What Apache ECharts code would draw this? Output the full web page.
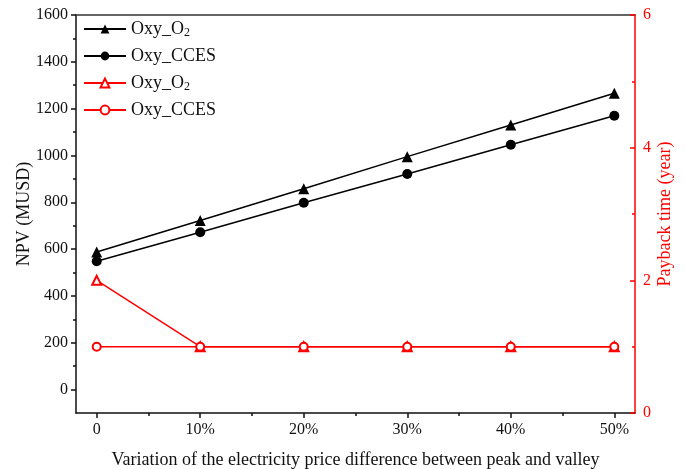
<!DOCTYPE html>
<html>
<head>
<meta charset="utf-8">
<script src="https://cdn.jsdelivr.net/npm/echarts@6/dist/echarts.min.js"></script>
<style>
  html, body { margin: 0; padding: 0; background: #fff; }
  #chart { width: 685px; height: 469px; }
</style>
</head>
<body>
<div id="chart"></div>
<script>
// x positions in percent (0 = no change)
const variation = [0, 10, 20, 30, 40, 50]
const xLabels = [0, 10, 20, 30, 40, 50]
const xMinor = [5, 15, 25, 35, 45]

const npvO2 = [588, 722, 858, 995, 1130, 1266]
const npvCCES = [548, 672, 798, 921, 1046, 1170]
const paybackO2 = [2, 1, 1, 1, 1, 1]
const paybackCCES = [1, 1, 1, 1, 1, 1]

const npvLabels = [0, 200, 400, 600, 800, 1000, 1200, 1400, 1600]
const npvMinor = [100, 300, 500, 700, 900, 1100, 1300, 1500]
const payLabels = [0, 2, 4, 6]
const payMinor = [1, 3, 5]

const font = 'Liberation Serif'
const RED = '#ff0000'
const INK = '#111'

const pairs = (ys) => variation.map((x, i) => [x, ys[i]])

const chart = echarts.init(document.getElementById('chart'))

chart.setOption({
  animation: false,
  textStyle: { fontFamily: font },
  grid: { left: 76, right: 50, top: 15, bottom: 56, containLabel: false, outerBoundsMode: 'none' },
  legend: {
    left: 78, top: 14, orient: 'vertical',
    itemWidth: 42, itemHeight: 11, itemGap: 7,
    textStyle: {
      fontFamily: font, fontSize: 18, color: INK, lineHeight: 20,
      rich: { sub: { fontFamily: font, fontSize: 12, verticalAlign: 'bottom', padding: [8, 0, 0, 0] } }
    },
    formatter: (name) => name.replace(/#.*/, '').replace('O2', 'O{sub|2}'),
    data: ['Oxy_O2', 'Oxy_CCES', 'Oxy_O2#p', 'Oxy_CCES#p']
  },
  xAxis: [
    {
      type: 'value', min: -2, max: 52,
      name: 'Variation of the electricity price difference between peak and valley',
      nameLocation: 'middle', nameGap: 38,
      nameTextStyle: { fontFamily: font, fontSize: 18, color: INK },
      axisLine: { onZero: false, lineStyle: { color: INK, width: 1.5 } },
      axisTick: { length: 5, customValues: xLabels, lineStyle: { color: INK, width: 1.5 } },
      axisLabel: {
        customValues: xLabels, margin: 9,
        fontFamily: font, fontSize: 16, color: INK,
        formatter: (v) => v === 0 ? '0' : v + '%'
      },
      splitLine: { show: false }
    },
    {
      type: 'value', min: -2, max: 52, position: 'bottom',
      axisLine: { show: false, onZero: false },
      axisTick: { length: 3, customValues: xMinor, lineStyle: { color: INK, width: 1.5 } },
      axisLabel: { show: false }, splitLine: { show: false }
    },
    {
      type: 'value', min: -2, max: 52, position: 'top',
      axisLine: { onZero: false, lineStyle: { color: '#333', width: 1.5 } },
      axisTick: { show: false }, axisLabel: { show: false }, splitLine: { show: false }
    }
  ],
  yAxis: [
    {
      type: 'value', min: -100, max: 1600, position: 'left',
      name: 'NPV (MUSD)', nameLocation: 'middle', nameGap: 43, nameRotate: 90,
      nameMoveOverlap: false,
      nameTextStyle: { fontFamily: font, fontSize: 18, color: INK },
      axisLine: { show: true, onZero: false, lineStyle: { color: INK, width: 1.5 } },
      axisTick: { length: 5, customValues: npvLabels, lineStyle: { color: INK, width: 1.5 } },
      axisLabel: {
        customValues: npvLabels, margin: 8, fontFamily: font, fontSize: 16, color: INK,
        formatter: (v) => String(v)
      },
      splitLine: { show: false }
    },
    {
      type: 'value', min: 0, max: 6, position: 'right',
      name: 'Payback time (year)', nameLocation: 'middle', nameGap: 21, nameRotate: 90,
      nameMoveOverlap: false,
      nameTextStyle: { fontFamily: font, fontSize: 18, color: RED },
      axisLine: { show: true, onZero: false, lineStyle: { color: RED, width: 1.5 } },
      axisTick: { inside: true, length: 5, customValues: payLabels, lineStyle: { color: RED, width: 1.5 } },
      axisLabel: {
        customValues: payLabels, margin: 8, fontFamily: font, fontSize: 16, color: RED,
        formatter: (v) => String(v)
      },
      splitLine: { show: false }
    },
    {
      type: 'value', min: -100, max: 1600, position: 'left',
      axisLine: { show: false, onZero: false },
      axisTick: { length: 3, customValues: npvMinor, lineStyle: { color: INK, width: 1.5 } },
      axisLabel: { show: false }, splitLine: { show: false }
    },
    {
      type: 'value', min: 0, max: 6, position: 'right',
      axisLine: { show: false, onZero: false },
      axisTick: { inside: true, length: 3, customValues: payMinor, lineStyle: { color: RED, width: 1.5 } },
      axisLabel: { show: false }, splitLine: { show: false }
    }
  ],
  series: [
    {
      name: 'Oxy_O2', type: 'line', yAxisIndex: 0, data: pairs(npvO2),
      symbol: 'triangle', symbolSize: 11,
      lineStyle: { color: '#000', width: 1.5 }, itemStyle: { color: '#000' }
    },
    {
      name: 'Oxy_CCES', type: 'line', yAxisIndex: 0, data: pairs(npvCCES),
      symbol: 'circle', symbolSize: 10,
      lineStyle: { color: '#000', width: 1.5 }, itemStyle: { color: '#000' }
    },
    {
      name: 'Oxy_O2#p', type: 'line', yAxisIndex: 1, data: pairs(paybackO2),
      symbol: 'triangle', symbolSize: 9, showAllSymbol: true,
      lineStyle: { color: RED, width: 1.5 },
      itemStyle: { color: '#fff', borderColor: RED, borderWidth: 2 }
    },
    {
      name: 'Oxy_CCES#p', type: 'line', yAxisIndex: 1, data: pairs(paybackCCES),
      symbol: 'circle', symbolSize: 8, showAllSymbol: true,
      lineStyle: { color: RED, width: 1.5 },
      itemStyle: { color: '#fff', borderColor: RED, borderWidth: 2 }
    }
  ]
})
</script>
</body>
</html>
